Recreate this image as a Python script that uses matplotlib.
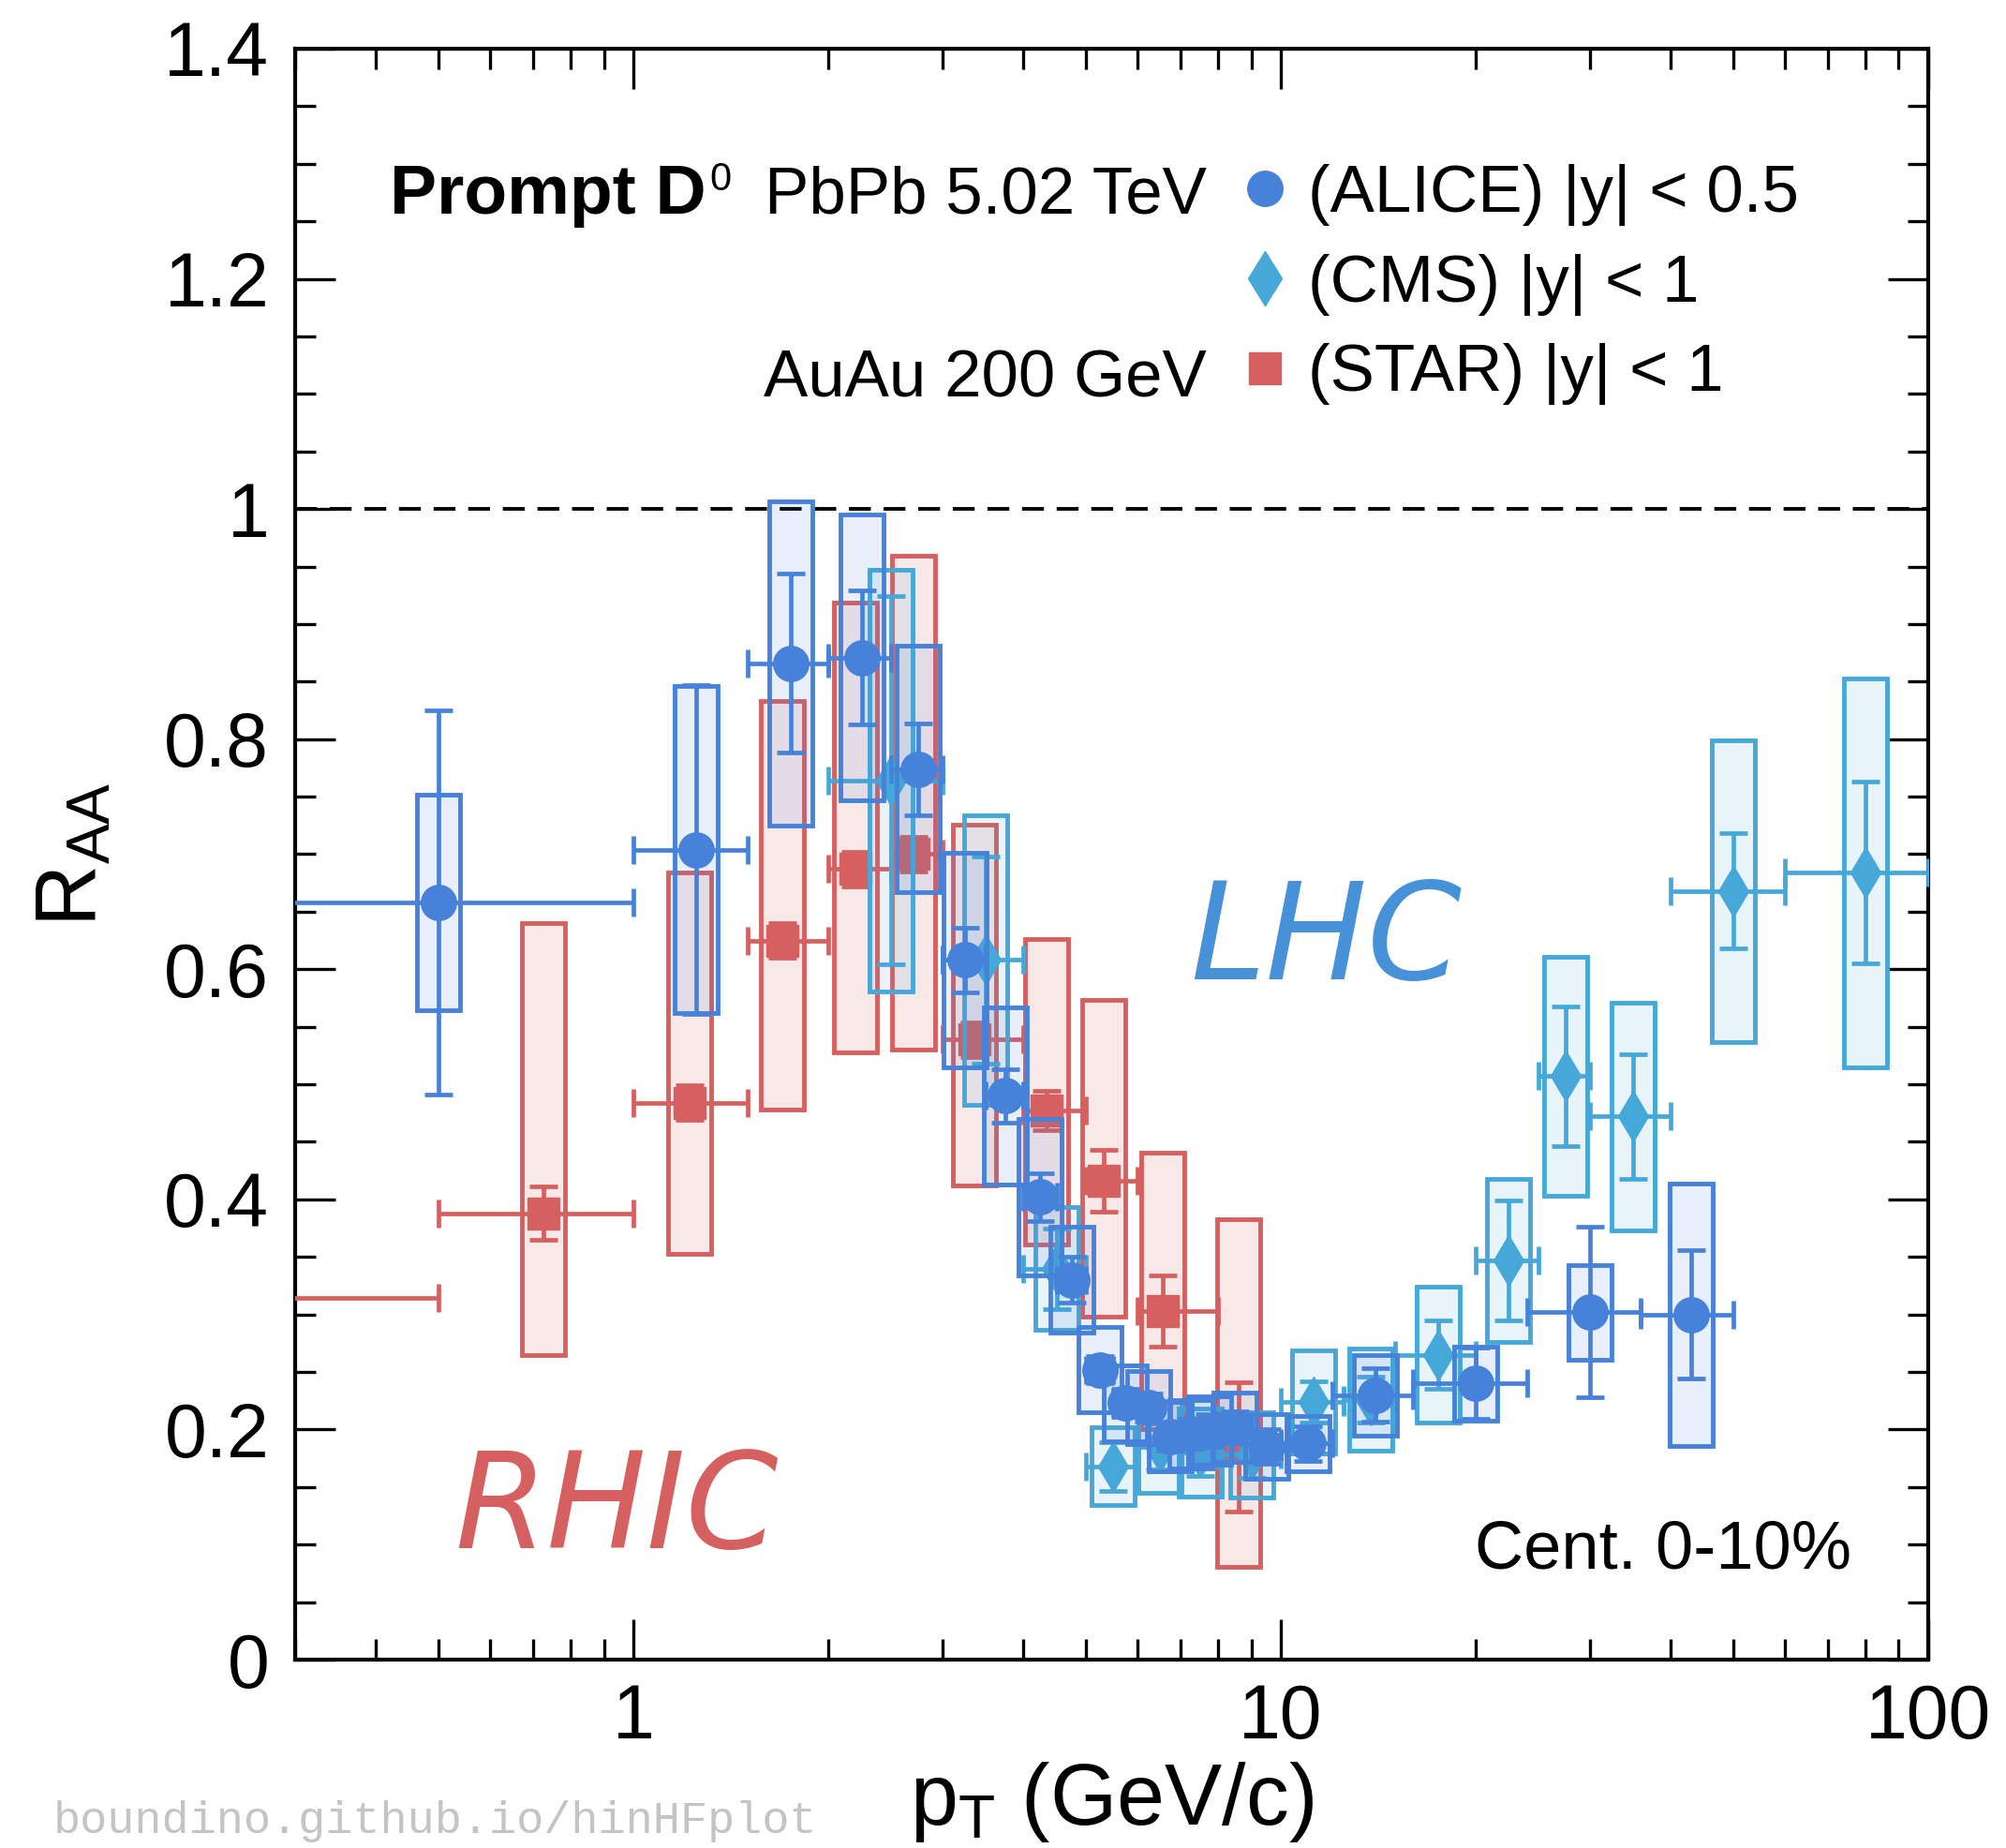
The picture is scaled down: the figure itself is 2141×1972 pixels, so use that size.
import numpy as np
import matplotlib
matplotlib.use("Agg")
import matplotlib.pyplot as plt
from matplotlib.lines import Line2D
from matplotlib.ticker import MultipleLocator, LogLocator, NullFormatter

plt.rcParams['font.family'] = ['Liberation Sans', 'DejaVu Sans']
plt.rcParams['mathtext.fontset'] = 'custom'
plt.rcParams['mathtext.rm'] = 'Liberation Sans'
plt.rcParams['mathtext.it'] = 'Liberation Sans:italic'

# ---- ALICE PbPb 5.02 TeV, |y| < 0.5
alice_pt   = [0.5, 1.25, 1.75, 2.25, 2.75, 3.25, 3.75, 4.25, 4.75, 5.25, 5.75, 6.25, 6.75, 7.25, 7.75, 8.5, 9.5, 11, 14, 20, 30, 43]
alice_lo   = [0, 1, 1.5, 2, 2.5, 3, 3.5, 4, 4.5, 5, 5.5, 6, 6.5, 7, 7.5, 8, 9, 10, 12, 16, 24, 36]
alice_hi   = [1, 1.5, 2, 2.5, 3, 3.5, 4, 4.5, 5, 5.5, 6, 6.5, 7, 7.5, 8, 9, 10, 12, 16, 24, 36, 50]
alice_raa  = [0.658, 0.704, 0.866, 0.871, 0.774, 0.608, 0.490, 0.402, 0.330, 0.252, 0.223, 0.219, 0.194, 0.196, 0.199, 0.202, 0.185, 0.188, 0.230, 0.240, 0.302, 0.300]
alice_stat = [0.167, 0.143, 0.078, 0.058, 0.040, 0.028, 0.023, 0.021, 0.020, 0.012, 0.012, 0.012, 0.012, 0.013, 0.014, 0.014, 0.015, 0.015, 0.023, 0.031, 0.074, 0.056]
alice_syst = [0.094, 0.142, 0.141, 0.124, 0.107, 0.093, 0.077, 0.068, 0.046, 0.037, 0.033, 0.032, 0.030, 0.030, 0.030, 0.030, 0.028, 0.024, 0.035, 0.032, 0.041, 0.114]

# ---- CMS PbPb 5.02 TeV, |y| < 1
cms_pt   = [2.5, 3.5, 4.5, 5.5, 6.5, 7.5, 9, 11.25, 13.75, 17.5, 22.5, 27.5, 35, 50, 80]
cms_lo   = [2, 3, 4, 5, 6, 7, 8, 10, 12.5, 15, 20, 25, 30, 40, 60]
cms_hi   = [3, 4, 5, 6, 7, 8, 10, 12.5, 15, 20, 25, 30, 40, 60, 100]
cms_raa  = [0.764, 0.608, 0.340, 0.168, 0.185, 0.180, 0.178, 0.224, 0.226, 0.265, 0.347, 0.507, 0.472, 0.668, 0.684]
cms_stat = [0.160, 0.090, 0.035, 0.021, 0.020, 0.020, 0.020, 0.018, 0.020, 0.030, 0.052, 0.061, 0.054, 0.050, 0.079]
cms_syst = [0.183, 0.126, 0.053, 0.034, 0.040, 0.038, 0.037, 0.045, 0.044, 0.059, 0.071, 0.104, 0.099, 0.131, 0.169]

# ---- STAR AuAu 200 GeV, |y| < 1 (asymmetric systematics)
star_pt      = [0.25, 0.725, 1.22, 1.70, 2.20, 2.71, 3.36, 4.34, 5.33, 6.57, 8.6]
star_lo      = [0, 0.5, 1, 1.5, 2, 2.5, 3, 4, 5, 6, 8]
star_hi      = [0.5, 1, 1.5, 2, 2.5, 3, 4, 5, 6, 8, 10]
star_raa     = [0.314, 0.388, 0.484, 0.625, 0.687, 0.700, 0.539, 0.477, 0.416, 0.303, 0.185]
star_stat    = [0.030, 0.023, 0.015, 0.015, 0.015, 0.015, 0.015, 0.017, 0.027, 0.031, 0.056]
star_sys_low = [0.20, 0.265, 0.353, 0.478, 0.528, 0.530, 0.412, 0.361, 0.298, 0.200, 0.081]
star_sys_up  = [0.55, 0.640, 0.684, 0.833, 0.919, 0.959, 0.726, 0.626, 0.573, 0.441, 0.383]

ALICE_COL = '#4682d9'
CMS_COL = '#45a8d8'
STAR_COL = '#d65f5f'

W, H = 2141, 1972
fig = plt.figure(figsize=(W / 100, H / 100), dpi=100)
ax = fig.add_axes([315 / W, 1 - 1771 / H, (2058 - 315) / W, (1771 - 52) / H])
ax.set_xscale('log')

BOX_HW = 0.0333  # half width of syst boxes in decades


def draw(pt, lo, hi, raa, stat, blo, bhi, col, marker, ms, z, alpha):
    pt = np.array(pt, float)
    raa = np.array(raa, float)
    lo = np.clip(np.array(lo, float), 1e-3, None)
    hi = np.array(hi, float)
    blo = np.array(blo, float)
    bhi = np.array(bhi, float)
    left = pt * 10 ** (-BOX_HW)
    right = pt * 10 ** BOX_HW
    ax.bar(left, bhi - blo, width=right - left, bottom=blo, align='edge',
           color=matplotlib.colors.to_rgba(col, alpha), edgecolor=col,
           linewidth=3.5, zorder=z)
    ax.errorbar(pt, raa, xerr=[pt - lo, hi - pt], yerr=stat, fmt=marker,
                ms=ms, color=col, mec=col, elinewidth=3.4, capsize=11,
                capthick=3.4, zorder=z + 0.5)


draw(star_pt, star_lo, star_hi, star_raa, star_stat, star_sys_low, star_sys_up,
     STAR_COL, 's', 24, 3, 0.14)
draw(cms_pt, cms_lo, cms_hi, cms_raa, cms_stat,
     np.subtract(cms_raa, cms_syst), np.add(cms_raa, cms_syst),
     CMS_COL, 'd', 28, 5, 0.12)
draw(alice_pt, alice_lo, alice_hi, alice_raa, alice_stat,
     np.subtract(alice_raa, alice_syst), np.add(alice_raa, alice_syst),
     ALICE_COL, 'o', 27, 7, 0.12)

ax.axhline(1.0, color='black', lw=2.8, ls=(0, (6, 3.5)), zorder=1)

ax.set_xlim(0.3, 100)
ax.set_ylim(0, 1.4)
ax.set_xticks([1, 10, 100])
ax.set_xticklabels(['1', '10', '100'])
ax.xaxis.set_minor_locator(LogLocator(base=10, subs=np.arange(2, 10)))
ax.xaxis.set_minor_formatter(NullFormatter())
ax.set_yticks([0, 0.2, 0.4, 0.6, 0.8, 1.0, 1.2, 1.4])
ax.set_yticklabels(['0', '0.2', '0.4', '0.6', '0.8', '1', '1.2', '1.4'])
ax.yaxis.set_minor_locator(MultipleLocator(0.05))
ax.tick_params(which='both', direction='in', top=True, right=True, width=2.4, labelsize=58)
ax.tick_params(which='major', length=31)
ax.tick_params(which='minor', length=16)
ax.tick_params(axis='y', pad=20)
ax.tick_params(axis='x', pad=18)
for s in ax.spines.values():
    s.set_linewidth(3)

ax.set_xlabel(r'$\mathregular{p_{T}}$ (GeV/c)', fontsize=66, labelpad=4)
ax.set_ylabel(r'$\mathregular{R_{AA}}$', fontsize=66, labelpad=38)

# legend
handles = [Line2D([], [], ls='none', marker='o', ms=27, color=ALICE_COL),
           Line2D([], [], ls='none', marker='d', ms=30, color=CMS_COL),
           Line2D([], [], ls='none', marker='s', ms=24, color=STAR_COL)]
labels = ['(ALICE) |y| < 0.5', '(CMS) |y| < 1', '(STAR) |y| < 1']
ax.legend(handles, labels, loc='upper left', bbox_to_anchor=(1322 / W, 1 - 175 / H),
          bbox_transform=fig.transFigure, frameon=False, fontsize=51,
          handlelength=0.8, handletextpad=0.25, labelspacing=0.42,
          borderpad=0, borderaxespad=0)

fig.text(416 / W, 1 - 228 / H, 'Prompt D', fontsize=54, fontweight='bold', va='baseline')
fig.text(757 / W, 1 - 172 / H, '0', fontsize=30, va='top')
fig.text(1288 / W, 1 - 228 / H, 'PbPb 5.02 TeV', fontsize=51, ha='right', va='baseline')
fig.text(1288 / W, 1 - 423 / H, 'AuAu 200 GeV', fontsize=51, ha='right', va='baseline')
fig.text(1976 / W, 1 - 1673 / H, 'Cent. 0-10%', fontsize=52, ha='right', va='baseline')

fig.text(1270 / W, 1 - 1045 / H, 'LHC', fontsize=104, color='#4691d8',
         family='DejaVu Sans', style='oblique', va='baseline')
fig.text(485 / W, 1 - 1652 / H, 'RHIC', fontsize=102, color=STAR_COL,
         family='DejaVu Sans', style='oblique', va='baseline')

fig.text(57 / W, 1 - 1943 / H, 'boundino.github.io/hinHFplot', fontsize=35,
         color='#c4c4c4', family='Liberation Mono', va='center')

fig.savefig('out.png', dpi=100)
